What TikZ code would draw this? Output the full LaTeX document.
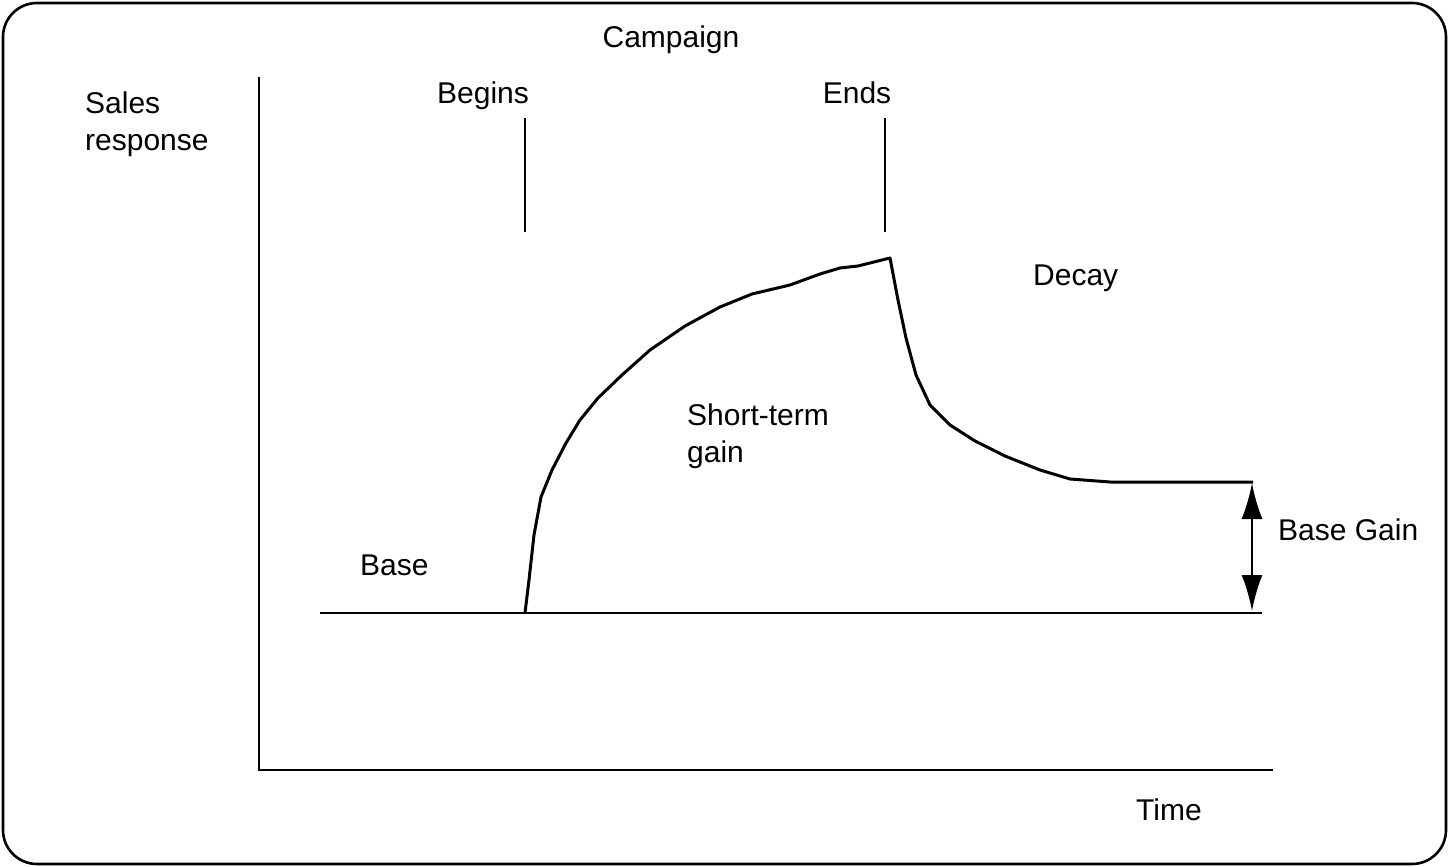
\documentclass[tikz,border=0pt]{standalone}
\usepackage{fontspec}
\setmainfont{Liberation Sans}
\usetikzlibrary{arrows.meta}
\begin{document}
\begin{tikzpicture}[x=1pt,y=-1pt,
  lbl/.style={inner sep=0pt,font=\fontsize{30}{37}\selectfont,align=left},
  axis/.style={line width=2.6pt},
  curve/.style={line width=3pt,line join=round},
  tick/.style={line width=2.4pt}]
\useasboundingbox (0,0) rectangle (1449,867);
% frame
\draw[line width=2.6pt,rounded corners=34pt] (3,3) rectangle (1446,864);
% axes
\coordinate (ytop) at (259,77);
\coordinate (orig) at (259,770);
\coordinate (xend) at (1273,770);
\draw[axis] (ytop) -- (orig) -- (xend);
% campaign markers
\coordinate (b1) at (525,118); \coordinate (b2) at (525,232);
\coordinate (e1) at (885,118); \coordinate (e2) at (885,232);
\draw[tick] (b1) -- (b2);
\draw[tick] (e1) -- (e2);
% base line
\coordinate (bl) at (320,613);
\coordinate (bs) at (525,613);
\coordinate (br) at (1262,613);
\draw[line width=2.4pt] (bl) -- (bs);
\draw[line width=1.8pt] (bs) -- (br);
% response curve
\coordinate (pk) at (890,258);
\coordinate (pl) at (1253,482);
\draw[curve] (bs) -- (529,580) -- (534,535) -- (541,497) -- (552,470)
  -- (566,443) -- (580,420) -- (598,398) -- (622,375) -- (650,350)
  -- (685,326) -- (720,307) -- (752,294) -- (790,285) -- (820,274)
  -- (840,268) -- (858,266) -- (pk) -- (898,300) -- (906,338)
  -- (916,375) -- (930,405) -- (950,425) -- (975,441) -- (1005,456)
  -- (1040,470) -- (1070,479) -- (1110,482) -- (pl);
% base gain arrow
\coordinate (ga) at (1252,483);
\coordinate (gb) at (1252,611);
\draw[line width=2.4pt,{Latex[length=36pt,width=21pt]}-{Latex[length=36pt,width=21pt]}] (ga) -- (gb);
% labels (base anchor of a two-line node sits on its last line)
\node[lbl,anchor=base] (camp) at (671,48) {Campaign};
\node[lbl,anchor=base west] (sales) at (85,150) {Sales\\response};
\node[lbl,anchor=base] (beg) at (483,103) {Begins};
\node[lbl,anchor=base] (ends) at (857,103) {Ends};
\node[lbl,anchor=base west] (decay) at (1033,285) {Decay};
\node[lbl,anchor=base west] (stg) at (687,462) {Short-term\\gain};
\node[lbl,anchor=base west] (base) at (360,575) {Base};
\node[lbl,anchor=base west] (bgain) at (1278,540) {Base Gain};
\node[lbl,anchor=base west] (time) at (1136,820) {Time};
\end{tikzpicture}
\end{document}
